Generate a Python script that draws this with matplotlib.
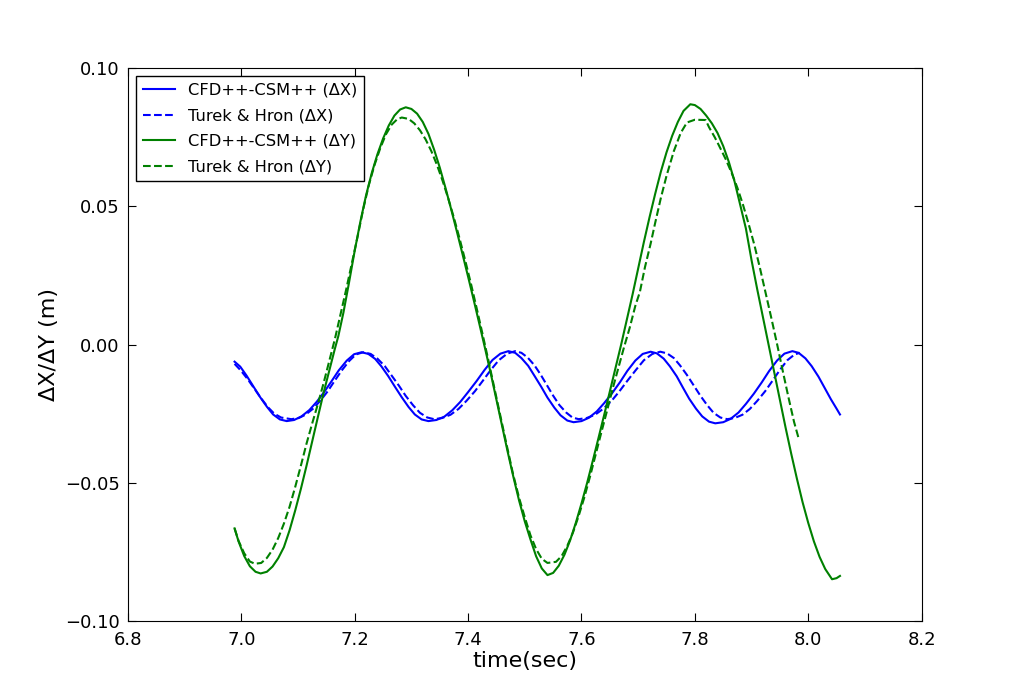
import matplotlib
matplotlib.use("Agg")
import matplotlib.pyplot as plt

# CFD++-CSM++ dX
t_cfd_x = [6.988, 6.998, 7.009, 7.021, 7.033, 7.045, 7.056, 7.068, 7.080,
           7.093, 7.106, 7.120, 7.133, 7.146, 7.159, 7.172, 7.186, 7.199, 7.212,
           7.224, 7.236, 7.247, 7.259, 7.271, 7.283, 7.295, 7.306, 7.318, 7.330,
           7.344, 7.358, 7.372, 7.386, 7.400, 7.415, 7.429, 7.443, 7.457, 7.471,
           7.483, 7.494, 7.506, 7.517, 7.529, 7.540, 7.552, 7.563, 7.575, 7.586,
           7.600, 7.613, 7.627, 7.640, 7.654, 7.668, 7.681, 7.695, 7.708, 7.722,
           7.733, 7.745, 7.756, 7.768, 7.779, 7.790, 7.802, 7.813, 7.825, 7.836,
           7.850, 7.863, 7.877, 7.890, 7.904, 7.918, 7.931, 7.945, 7.958, 7.972,
           7.983, 7.995, 8.006, 8.018, 8.029, 8.040, 8.050, 8.056]
dx_cfd = [-0.0062, -0.0080, -0.0112, -0.0151, -0.0190, -0.0225, -0.0253, -0.0271, -0.0277,
          -0.0273, -0.0260, -0.0237, -0.0207, -0.0172, -0.0133, -0.0093, -0.0058, -0.0035, -0.0028,
          -0.0034, -0.0052, -0.0079, -0.0114, -0.0153, -0.0191, -0.0226, -0.0253, -0.0271, -0.0277,
          -0.0273, -0.0261, -0.0238, -0.0208, -0.0172, -0.0132, -0.0092, -0.0056, -0.0033, -0.0024,
          -0.0030, -0.0049, -0.0077, -0.0113, -0.0153, -0.0192, -0.0228, -0.0256, -0.0275, -0.0281,
          -0.0277, -0.0265, -0.0242, -0.0212, -0.0176, -0.0136, -0.0095, -0.0058, -0.0034, -0.0026,
          -0.0032, -0.0051, -0.0079, -0.0115, -0.0156, -0.0196, -0.0232, -0.0260, -0.0279, -0.0285,
          -0.0281, -0.0269, -0.0246, -0.0215, -0.0178, -0.0137, -0.0096, -0.0058, -0.0033, -0.0024,
          -0.0030, -0.0050, -0.0078, -0.0116, -0.0157, -0.0198, -0.0232, -0.0253]

# Turek & Hron dX
t_th_x = [6.988, 6.999, 7.011, 7.023, 7.035, 7.047, 7.058, 7.070, 7.088,
          7.101, 7.113, 7.126, 7.139, 7.152, 7.164, 7.177, 7.190, 7.202, 7.215,
          7.228, 7.240, 7.253, 7.265, 7.278, 7.290, 7.303, 7.315, 7.328, 7.340,
          7.354, 7.369, 7.383, 7.397, 7.412, 7.426, 7.440, 7.454, 7.469, 7.483,
          7.494, 7.505, 7.517, 7.528, 7.539, 7.550, 7.561, 7.573, 7.584, 7.595,
          7.609, 7.624, 7.638, 7.653, 7.667, 7.681, 7.696, 7.710, 7.725, 7.739,
          7.751, 7.763, 7.774, 7.786, 7.798, 7.810, 7.822, 7.833, 7.845, 7.857,
          7.870, 7.884, 7.897, 7.910, 7.924, 7.937, 7.950, 7.963, 7.976, 7.985]
dx_th = [-0.0070, -0.0094, -0.0125, -0.0160, -0.0195, -0.0227, -0.0250, -0.0264, -0.0270,
         -0.0266, -0.0254, -0.0233, -0.0204, -0.0170, -0.0133, -0.0094, -0.0060, -0.0036, -0.0028,
         -0.0034, -0.0051, -0.0078, -0.0112, -0.0149, -0.0186, -0.0220, -0.0247, -0.0264, -0.0270,
         -0.0266, -0.0254, -0.0233, -0.0204, -0.0169, -0.0131, -0.0092, -0.0057, -0.0033, -0.0024,
         -0.0030, -0.0047, -0.0075, -0.0109, -0.0147, -0.0185, -0.0219, -0.0246, -0.0264, -0.0270,
         -0.0266, -0.0254, -0.0233, -0.0204, -0.0169, -0.0131, -0.0092, -0.0057, -0.0034, -0.0026,
         -0.0032, -0.0049, -0.0076, -0.0110, -0.0148, -0.0186, -0.0220, -0.0247, -0.0264, -0.0270,
         -0.0266, -0.0254, -0.0233, -0.0204, -0.0169, -0.0131, -0.0092, -0.0057, -0.0036, -0.0030]

# CFD++-CSM++ dY
t_cfd_y = [6.988, 6.995, 7.005, 7.015, 7.025, 7.034, 7.045, 7.055, 7.065, 7.075, 7.085, 7.095,
           7.105, 7.115, 7.125, 7.135, 7.145, 7.155, 7.165, 7.171, 7.180, 7.190, 7.200, 7.210,
           7.220, 7.230, 7.240, 7.250, 7.260, 7.270, 7.280, 7.290, 7.300, 7.310, 7.320, 7.330,
           7.340, 7.350, 7.360, 7.370, 7.380, 7.390, 7.400, 7.410, 7.420, 7.430, 7.440, 7.450,
           7.460, 7.470, 7.480, 7.490, 7.500, 7.510, 7.520, 7.530, 7.540, 7.550, 7.560, 7.570,
           7.580, 7.590, 7.600, 7.610, 7.620, 7.630, 7.640, 7.650, 7.660, 7.670, 7.680, 7.690,
           7.700, 7.710, 7.720, 7.730, 7.740, 7.750, 7.760, 7.770, 7.780, 7.792, 7.800, 7.810,
           7.820, 7.830, 7.840, 7.850, 7.860, 7.870, 7.880, 7.890, 7.900, 7.910, 7.920, 7.930,
           7.940, 7.950, 7.960, 7.970, 7.980, 7.990, 8.000, 8.010, 8.020, 8.030, 8.042, 8.050, 8.056]
dy_cfd = [-0.0665, -0.0712, -0.0765, -0.0802, -0.0822, -0.0828, -0.0822, -0.0803, -0.0773, -0.0733, -0.0672, -0.0600,
          -0.0522, -0.0438, -0.0350, -0.0262, -0.0175, -0.0095, -0.0015, 0.0030, 0.0115, 0.0225, 0.0340, 0.0445,
          0.0540, 0.0620, 0.0688, 0.0745, 0.0792, 0.0828, 0.0850, 0.0858, 0.0852, 0.0835, 0.0805, 0.0762,
          0.0705, 0.0640, 0.0567, 0.0490, 0.0410, 0.0328, 0.0245, 0.0160, 0.0073, -0.0015, -0.0105, -0.0200,
          -0.0295, -0.0390, -0.0480, -0.0565, -0.0640, -0.0705, -0.0766, -0.0810, -0.0834, -0.0826, -0.0800, -0.0760,
          -0.0708, -0.0645, -0.0575, -0.0500, -0.0420, -0.0338, -0.0255, -0.0170, -0.0085, 0.0000, 0.0090, 0.0180,
          0.0275, 0.0370, 0.0460, 0.0545, 0.0625, 0.0695, 0.0755, 0.0805, 0.0845, 0.0869, 0.0866, 0.0852,
          0.0828, 0.0800, 0.0765, 0.0718, 0.0660, 0.0590, 0.0505, 0.0420, 0.0305, 0.0200, 0.0100, 0.0000,
          -0.0100, -0.0200, -0.0300, -0.0395, -0.0485, -0.0570, -0.0645, -0.0712, -0.0768, -0.0812, -0.0849, -0.0845, -0.0837]

# Turek & Hron dY
t_th_y = [6.988, 6.995, 7.005, 7.015, 7.024, 7.035, 7.045, 7.055, 7.065, 7.075, 7.085, 7.095,
          7.105, 7.115, 7.125, 7.135, 7.145, 7.155, 7.165, 7.175, 7.185, 7.195, 7.205, 7.215,
          7.225, 7.235, 7.245, 7.255, 7.265, 7.275, 7.283, 7.295, 7.305, 7.315, 7.325, 7.335,
          7.345, 7.355, 7.365, 7.375, 7.385, 7.395, 7.405, 7.415, 7.425, 7.435, 7.445, 7.455,
          7.465, 7.479, 7.490, 7.500, 7.510, 7.520, 7.530, 7.540, 7.555, 7.565, 7.575, 7.585,
          7.595, 7.605, 7.615, 7.625, 7.635, 7.645, 7.655, 7.665, 7.675, 7.685, 7.695, 7.703,
          7.712, 7.722, 7.730, 7.740, 7.750, 7.763, 7.775, 7.786, 7.800, 7.819, 7.825, 7.835,
          7.842, 7.855, 7.865, 7.875, 7.885, 7.895, 7.905, 7.915, 7.925, 7.935, 7.945, 7.955,
          7.965, 7.975, 7.983]
dy_th = [-0.0665, -0.0710, -0.0755, -0.0785, -0.0793, -0.0790, -0.0772, -0.0742, -0.0700, -0.0648, -0.0587, -0.0515,
         -0.0438, -0.0358, -0.0285, -0.0215, -0.0140, -0.0060, 0.0020, 0.0110, 0.0200, 0.0295, 0.0390, 0.0490,
         0.0578, 0.0650, 0.0710, 0.0760, 0.0795, 0.0815, 0.0821, 0.0816, 0.0800, 0.0775, 0.0742, 0.0700,
         0.0650, 0.0592, 0.0528, 0.0458, 0.0383, 0.0303, 0.0220, 0.0132, 0.0042, -0.0050, -0.0145, -0.0240,
         -0.0335, -0.0466, -0.0555, -0.0625, -0.0690, -0.0740, -0.0775, -0.0790, -0.0786, -0.0765, -0.0728, -0.0680,
         -0.0620, -0.0553, -0.0478, -0.0398, -0.0318, -0.0240, -0.0160, -0.0085, -0.0010, 0.0060, 0.0140, 0.0190,
         0.0280, 0.0365, 0.0440, 0.0530, 0.0610, 0.0700, 0.0765, 0.0803, 0.0813, 0.0812, 0.0786, 0.0750,
         0.0722, 0.0668, 0.0620, 0.0567, 0.0505, 0.0435, 0.0360, 0.0275, 0.0185, 0.0095, 0.0002, -0.0095,
         -0.0190, -0.0280, -0.0339]

xticks = [6.8, 7.0, 7.2, 7.4, 7.6, 7.8, 8.0, 8.2]
yticks = [-0.10, -0.05, 0.00, 0.05, 0.10]

fig = plt.figure(figsize=(10.24, 6.9), dpi=100)
ax = fig.add_axes([0.125, 0.1, 0.775, 0.8014])

ax.plot(t_cfd_x, dx_cfd, color='b', lw=1.5, label=u'CFD++-CSM++ (\u0394X)')
ax.plot(t_th_x, dx_th, color='b', lw=1.5, ls='--', label=u'Turek & Hron (\u0394X)')
ax.plot(t_cfd_y, dy_cfd, color='g', lw=1.5, label=u'CFD++-CSM++ (\u0394Y)')
ax.plot(t_th_y, dy_th, color='g', lw=1.5, ls='--', label=u'Turek & Hron (\u0394Y)')

ax.set_xlim(6.8, 8.2)
ax.set_ylim(-0.1, 0.1)
ax.set_xticks(xticks)
ax.set_yticks(yticks)
ax.set_xticklabels(['%.1f' % v for v in xticks])
ax.set_yticklabels([('%.2f' % v).replace('-', u'\u2212') for v in yticks])
ax.tick_params(direction='in', top=True, right=True, length=6, labelsize=13)
ax.tick_params(axis='x', pad=7)
ax.tick_params(axis='y', pad=6)

ax.set_xlabel('time(sec)', fontsize=16, labelpad=2)
ax.set_ylabel(u'\u0394X/\u0394Y (m)', fontsize=16)

leg = ax.legend(loc='upper left', fontsize=11.7, fancybox=False, framealpha=1,
                edgecolor='black', handlelength=2, labelspacing=0.65, borderaxespad=0.5)
leg.get_frame().set_linewidth(1.0)

fig.savefig('out.png', dpi=100)
